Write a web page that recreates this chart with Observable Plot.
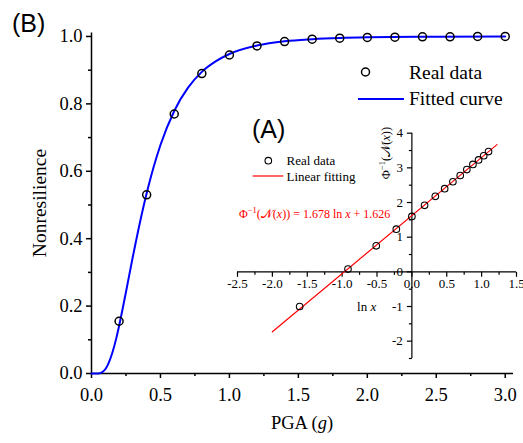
<!DOCTYPE html>
<html><head><meta charset="utf-8">
<script src="https://cdn.jsdelivr.net/npm/d3@7"></script>
<script src="https://cdn.jsdelivr.net/npm/@observablehq/plot@0.6"></script>
<style>
body{margin:0;background:#fff;}
#wrap{position:relative;width:523px;height:443px;overflow:hidden;font-family:"Liberation Serif",serif;background:#fff;}
#wrap > svg{position:absolute;}
#wrap svg, #wrap svg text{font-family:"Liberation Serif",serif;}
</style></head><body><div id="wrap"></div>
<script>
// ---- Data ----
const pga = [0.2,0.4,0.6,0.8,1.0,1.2,1.4,1.6,1.8,2.0,2.2,2.4,2.6,2.8,3.0];
const nonres = [0.155,0.53,0.77,0.89,0.945,0.972,0.985,0.992,0.995,0.997,0.998,0.999,0.999,1.0,1.0];
const curvePGA = [0,0.04,0.06,0.08,0.1,0.12,0.15,0.18,0.2,0.25,0.3,0.35,0.4,0.5,0.6,0.7,0.8,0.9,1.0,1.2,1.4,1.6,1.8,2.0,2.5,3.0];
const curveVal = [0,0,0.001,0.0045,0.0126,0.027,0.06,0.105,0.141,0.242,0.347,0.446,0.535,0.678,0.779,0.848,0.895,0.926,0.948,0.973,0.986,0.992,0.9955,0.9974,0.9992,0.9997];
const lnX = [-1.609,-0.916,-0.511,-0.223,0,0.182,0.336,0.470,0.588,0.693,0.788,0.875,0.956,1.030,1.099];
const probit = [-1.0,0.08,0.75,1.23,1.60,1.92,2.18,2.40,2.60,2.78,2.95,3.10,3.23,3.35,3.47];
const fitLnX = [-2.0,1.22];
const fitProbit = [-1.73,3.67];
const mainXTicks = [0,0.5,1.0,1.5,2.0,2.5,3.0];
const mainXMinor = [0.25,0.75,1.25,1.75,2.25,2.75];
const mainYTicks = [0,0.2,0.4,0.6,0.8,1.0];
const mainYMinor = [0.1,0.3,0.5,0.7,0.9];
const insetXTicks = [-2.5,-2.0,-1.5,-1.0,-0.5,0.0,0.5,1.0,1.5];
const insetXMinor = [-2.25,-1.75,-1.25,-0.75,-0.25,0.25,0.75,1.25];
const insetYTicks = [-2,-1,0,1,2,3,4];
const insetYMinor = [-2.5,-1.5,-0.5,0.5,1.5,2.5,3.5];

const wrap = document.getElementById("wrap");
const serif = "Liberation Serif";
const fmt1 = d => (d < 0 ? "-" : "") + Math.abs(d).toFixed(1);
const fmt0 = d => (d < 0 ? "-" : "") + Math.abs(d);

// ---- Main chart ----
const main = Plot.plot({
  width: 523, height: 443,
  marginLeft: 91, marginRight: 10, marginTop: 32.6, marginBottom: 70,
  x: {domain: [0, 3.06]},
  y: {domain: [0, 1.01]},
  style: {fontFamily: serif, fontSize: "18.5px", color: "#000", background: "transparent"},
  marks: [
    Plot.axisX({ticks: mainXTicks, tickSize: 5, tickPadding: 9, tickFormat: fmt1, label: null, strokeWidth: 1.5, fontSize: 18.5}),
    Plot.axisX({ticks: mainXMinor, tickSize: 3, tickFormat: () => "", label: null, strokeWidth: 1.5}),
    Plot.axisY({ticks: mainYTicks, tickSize: 5, tickPadding: 4, tickFormat: fmt1, label: null, strokeWidth: 1.5, fontSize: 18.5}),
    Plot.axisY({ticks: mainYMinor, tickSize: 3, tickFormat: () => "", label: null, strokeWidth: 1.5}),
    Plot.ruleY([0], {stroke: "#000", strokeWidth: 1.5}),
    Plot.ruleX([0], {stroke: "#000", strokeWidth: 1.5}),
    Plot.line(curvePGA.map((d, i) => i), {x: i => curvePGA[i], y: i => curveVal[i], stroke: "#0000ff", strokeWidth: 2, curve: "monotone-x"}),
    Plot.dot(pga.map((d, i) => i), {x: i => pga[i], y: i => nonres[i], r: 4, stroke: "#000", strokeWidth: 1.5, fill: "none"})
  ]
});
main.style.left = "0px"; main.style.top = "0px";
wrap.appendChild(main);

// ---- Inset chart ----
const tickDown = len => ({draw(ctx) { ctx.moveTo(0, 0); ctx.lineTo(0, len); }});
const tickLeft = len => ({draw(ctx) { ctx.moveTo(0, 0); ctx.lineTo(-len, 0); }});
const inset = Plot.plot({
  width: 323, height: 260,
  marginLeft: 37, marginRight: 7, marginTop: 22.7, marginBottom: 12,
  x: {domain: [-2.5, 1.5], axis: null},
  y: {domain: [-2.5, 4], axis: null},
  style: {fontFamily: serif, fontSize: "13px", color: "#000", background: "transparent", overflow: "visible"},
  marks: [
    Plot.ruleY([0], {x1: -2.5, x2: 1.5, stroke: "#000", strokeWidth: 1.2}),
    Plot.ruleX([0], {y1: -2.5, y2: 4, stroke: "#000", strokeWidth: 1.2}),
    Plot.dot(insetXTicks, {x: d => d, y: 0, symbol: tickDown(5), stroke: "#000", strokeWidth: 1.2, r: 1}),
    Plot.dot(insetXMinor, {x: d => d, y: 0, symbol: tickDown(3), stroke: "#000", strokeWidth: 1.2, r: 1}),
    Plot.dot(insetYTicks, {x: 0, y: d => d, symbol: tickLeft(5), stroke: "#000", strokeWidth: 1.2, r: 1}),
    Plot.dot(insetYMinor, {x: 0, y: d => d, symbol: tickLeft(3), stroke: "#000", strokeWidth: 1.2, r: 1}),
    Plot.text(insetXTicks, {x: d => d, y: 0, text: fmt1, dy: 12, fill: "#000", fontSize: 13}),
    Plot.text(insetYTicks, {x: 0, y: d => d, text: fmt0, dx: -9, textAnchor: "end", fill: "#000", fontSize: 13}),
    Plot.line(fitLnX.map((d, i) => i), {x: i => fitLnX[i], y: i => fitProbit[i], stroke: "#ff0000", strokeWidth: 1.2}),
    Plot.dot(lnX.map((d, i) => i), {x: i => lnX[i], y: i => probit[i], r: 3.3, stroke: "#000", strokeWidth: 1.1, fill: "none"})
  ]
});
inset.style.left = "200px"; inset.style.top = "110px";
wrap.appendChild(inset);

// ---- Annotations overlay (labels, legends) ----
const ov = d3.select(wrap).append("svg")
  .attr("width", 523).attr("height", 443)
  .style("left", "0px").style("top", "0px").style("pointer-events", "none")
  .attr("font-family", serif);

function txt(x, y, s, size, opts = {}) {
  const t = ov.append("text").attr("x", x).attr("y", y).attr("font-size", size)
    .attr("fill", opts.fill || "#000").attr("text-anchor", opts.anchor || "start");
  if (s) t.text(s);
  if (opts.family) t.style("font-family", opts.family);
  if (opts.rotate) t.attr("transform", `rotate(-90 ${x} ${y})`);
  return t;
}

// panel letters
txt(12, 32, "(B)", 25, {family: "Liberation Sans"});
txt(252, 137.5, "(A)", 25, {family: "Liberation Sans"});

// main axis labels
const xl = txt(302, 429, "", 18.5, {anchor: "middle"});
xl.append("tspan").text("PGA (");
xl.append("tspan").attr("font-style", "italic").text("g");
xl.append("tspan").text(")");
txt(46, 203, "Nonresilience", 19.5, {anchor: "middle", rotate: true});

// main legend
ov.append("circle").attr("cx", 365.5).attr("cy", 72).attr("r", 4).attr("fill", "none").attr("stroke", "#000").attr("stroke-width", 1.5);
txt(409, 79, "Real data", 19.5);
ov.append("line").attr("x1", 358).attr("x2", 404).attr("y1", 99).attr("y2", 99).attr("stroke", "#0000ff").attr("stroke-width", 2);
txt(409, 105, "Fitted curve", 19.5);

// inset legend
ov.append("circle").attr("cx", 268.3).attr("cy", 160.7).attr("r", 3.3).attr("fill", "none").attr("stroke", "#000").attr("stroke-width", 1.1);
txt(286.5, 165, "Real data", 13);
ov.append("line").attr("x1", 252.7).attr("x2", 283.3).attr("y1", 176).attr("y2", 176).attr("stroke", "#ff0000").attr("stroke-width", 1.2);
txt(286.5, 180.5, "Linear fitting", 13);

// equation
const eq = txt(239, 218, "", 12, {fill: "#ff0000"});
eq.append("tspan").text("Φ");
eq.append("tspan").attr("font-size", 8.5).attr("dy", -5).text("−1");
eq.append("tspan").attr("dy", 5).text("(");
eq.append("tspan").text("𝒩");
eq.append("tspan").text("(");
eq.append("tspan").attr("font-style", "italic").text("x");
eq.append("tspan").text(")) = 1.678 ln ");
eq.append("tspan").attr("font-style", "italic").text("x");
eq.append("tspan").text(" + 1.626");

// inset axis labels
const lx = txt(366.7, 311, "", 13, {anchor: "middle"});
lx.append("tspan").text("ln ");
lx.append("tspan").attr("font-style", "italic").text("x");
const ly = txt(390, 153, "", 12.5, {anchor: "middle", rotate: true});
ly.append("tspan").text("Φ");
ly.append("tspan").attr("font-size", 8.5).attr("dy", -5).text("−1");
ly.append("tspan").attr("dy", 5).text("(");
ly.append("tspan").text("𝒩");
ly.append("tspan").text("(");
ly.append("tspan").attr("font-style", "italic").text("x");
ly.append("tspan").text("))");
</script></body></html>
